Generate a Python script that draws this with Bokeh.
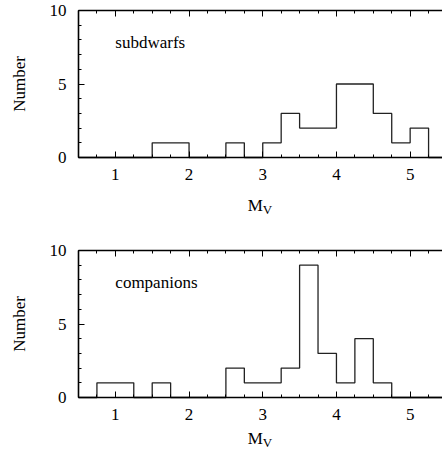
import math
from bokeh.plotting import figure
from bokeh.models import Range1d, LinearAxis, Label, FixedTicker
from bokeh.layouts import column
from bokeh.embed import file_html
from bokeh.resources import INLINE

# bin edges (M_V), width 0.25
bin_edges = [0.5, 0.75, 1.0, 1.25, 1.5, 1.75, 2.0, 2.25, 2.5, 2.75, 3.0,
             3.25, 3.5, 3.75, 4.0, 4.25, 4.5, 4.75, 5.0, 5.25, 5.5]
subdwarf_counts = [0, 0, 0, 0, 1, 1, 0, 0, 1, 0, 1, 3, 2, 2, 5, 5, 3, 1, 2, 0]
companion_counts = [0, 1, 1, 0, 1, 0, 0, 0, 2, 1, 1, 2, 9, 3, 1, 4, 1, 0, 0, 0]
x_ticks = [1, 2, 3, 4, 5]
x_minor = [0.5, 0.75, 1.0, 1.25, 1.5, 1.75, 2.0, 2.25, 2.5, 2.75, 3.0,
           3.25, 3.5, 3.75, 4.0, 4.25, 4.5, 4.75, 5.0, 5.25, 5.5]
y_ticks = [0, 5, 10]
y_minor = [0, 1, 2, 3, 4, 5, 6, 7, 8, 9, 10]
panel_labels = ["subdwarfs", "companions"]

FONT = "Liberation Serif, Times New Roman, serif"
W = 442
LEFT_PX = 78          # left edge of the plotting box
PXX = 73.7            # px per M_V unit
PXY = 14.7            # px per count unit
X_LO, X_HI = 0.5, 5.5
Y_LO, Y_HI = 0, 10


def style_axis(ax):
    ax.axis_line_width = 1.6
    ax.axis_line_color = "black"
    ax.major_tick_in = 6
    ax.major_tick_out = 0
    ax.minor_tick_in = 3
    ax.minor_tick_out = 0
    ax.major_tick_line_color = "black"
    ax.minor_tick_line_color = "black"
    ax.major_label_text_font = FONT
    ax.major_label_text_font_size = "17px"
    ax.major_label_text_color = "black"


def make_panel(counts, label, height, top_px, mv_px):
    below_px = height - top_px - (Y_HI - Y_LO) * PXY
    x0 = X_LO - LEFT_PX / PXX
    x1 = X_LO + (W - LEFT_PX) / PXX
    y0 = Y_LO - below_px / PXY
    y1 = Y_HI + top_px / PXY
    p = figure(width=W, height=height, output_backend="svg", toolbar_location=None,
               x_range=Range1d(x0, x1), y_range=Range1d(y0, y1),
               min_border_left=0, min_border_right=0, min_border_top=0,
               min_border_bottom=0)
    p.outline_line_color = None
    p.xgrid.visible = False
    p.ygrid.visible = False
    p.background_fill_color = "white"
    p.border_fill_color = "white"

    ys = list(counts) + [counts[-1]]
    p.step(x=bin_edges, y=ys, mode="after", line_color="#222222", line_width=1.3)

    xa = p.xaxis[0]
    ya = p.yaxis[0]
    xa.ticker = FixedTicker(ticks=x_ticks, minor_ticks=x_minor)
    ya.ticker = FixedTicker(ticks=y_ticks, minor_ticks=y_minor)
    style_axis(xa)
    style_axis(ya)
    xa.fixed_location = Y_LO
    xa.bounds = (X_LO, X_HI)
    xa.major_label_standoff = 11
    ya.fixed_location = X_LO
    ya.bounds = (Y_LO, Y_HI)
    ya.major_label_standoff = 12

    top_ax = LinearAxis(ticker=FixedTicker(ticks=x_ticks, minor_ticks=x_minor))
    style_axis(top_ax)
    top_ax.fixed_location = Y_HI
    top_ax.bounds = (X_LO, X_HI)
    top_ax.major_label_overrides = {t: "" for t in x_ticks}
    top_ax.major_label_standoff = 0
    p.add_layout(top_ax, "above")

    p.add_layout(Label(x=x0 + 19 / PXX, y=(Y_LO + Y_HI) / 2, text="Number",
                       angle=math.pi / 2, text_font=FONT, text_font_size="17px",
                       text_align="center", text_baseline="middle", text_color="black"))
    p.add_layout(Label(x=1.0, y=7.8, text=label, text_font=FONT, text_font_size="17px",
                       text_baseline="middle", text_align="left", text_color="black"))
    p.add_layout(Label(x=3.0, y=-mv_px / PXY, text="M", text_font=FONT,
                       text_font_size="17px", text_align="right",
                       text_baseline="alphabetic", text_color="black"))
    p.add_layout(Label(x=3.0, y=-(mv_px + 4) / PXY, text="V", text_font=FONT,
                       text_font_size="13px", text_align="left",
                       text_baseline="alphabetic", text_color="black"))
    return p


p1 = make_panel(subdwarf_counts, panel_labels[0], 225, 10, 48)
p2 = make_panel(companion_counts, panel_labels[1], 224, 25, 41)
p = column(p1, p2)

open("out.html", "w").write(file_html(p, INLINE))
